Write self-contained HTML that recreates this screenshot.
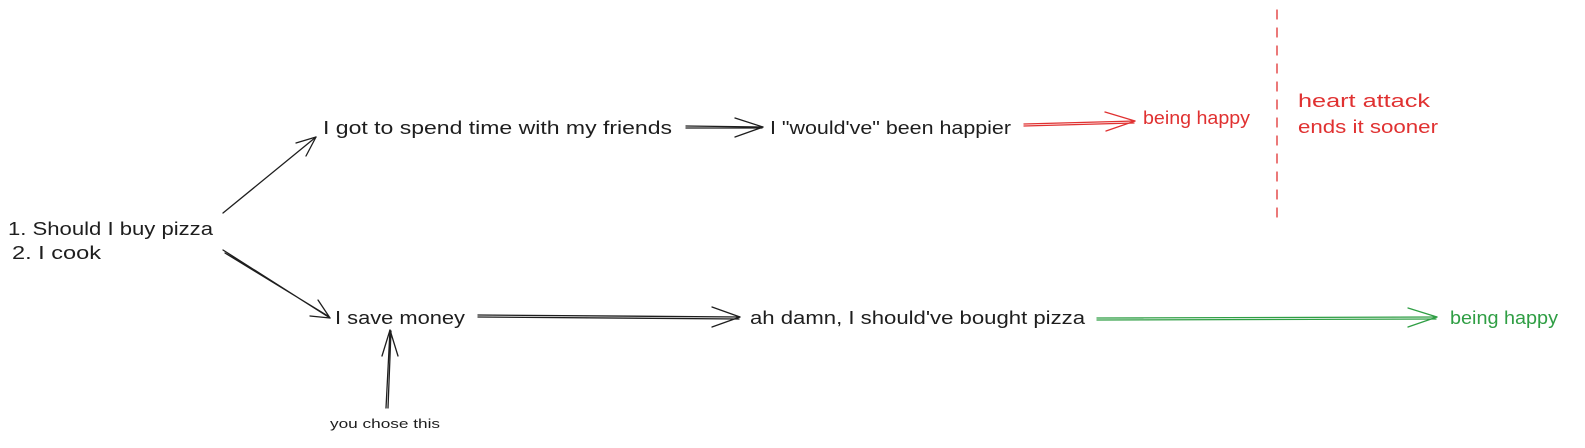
<!DOCTYPE html>
<html>
<head>
<meta charset="utf-8">
<style>
  html,body{margin:0;padding:0;background:#fff;}
  svg{display:block;}
  text{font-family:"Liberation Sans",sans-serif;font-size:18px;}
</style>
</head>
<body>
<svg width="1585" height="448" viewBox="0 0 1585 448">
  <g fill="#1e1e1e">
    <text x="8" y="235" textLength="205" lengthAdjust="spacingAndGlyphs">1. Should I buy pizza</text>
    <text x="12" y="259" textLength="89" lengthAdjust="spacingAndGlyphs">2. I cook</text>
  </g>

  <g stroke="#1e1e1e" stroke-width="1.3" fill="none" stroke-linecap="round">
    <g>
      <path d="M223 213 L316 137"/>
      <path d="M316 137 L296 143 M316 137 L306 156"/>
    </g>
    <g>
      <path d="M223 250 L330 318 M225 253 L328 316"/>
      <path d="M330 318 L318 300 M330 318 L310 316"/>
    </g>
    <g>
      <path d="M686 126 L763 127 M686 128 L762 128"/>
      <path d="M763 127 L735 118 M763 127 L735 137"/>
    </g>
    <g>
      <path d="M478 315 L740 317 M478 317 L739 319"/>
      <path d="M740 317 L712 307 M740 317 L712 327"/>
    </g>
    <g>
      <path d="M386 408 L390 330 M388 408 L391 331"/>
      <path d="M390 330 L382 356 M390 330 L398 356"/>
    </g>
  </g>

  <g stroke="#e03131" stroke-width="1.3" fill="none" stroke-linecap="round">
    <g>
      <path d="M1024 124 L1135 121 M1024 126 L1134 123"/>
      <path d="M1135 121 L1105 112 M1135 121 L1106 131"/>
    </g>
    <path d="M1277 10 L1277 220" stroke-dasharray="9 9"/>
  </g>

  <g stroke="#2f9e44" stroke-width="1.3" fill="none" stroke-linecap="round">
    <path d="M1097 318 L1437 317 M1097 320 L1436 319"/>
    <path d="M1437 317 L1408 308 M1437 317 L1408 327"/>
  </g>

  <g fill="#1e1e1e">
    <text x="323" y="134" textLength="349" lengthAdjust="spacingAndGlyphs">I got to spend time with my friends</text>
    <text x="770" y="134" textLength="241" lengthAdjust="spacingAndGlyphs">I "would've" been happier</text>
    <text x="335" y="324" textLength="130" lengthAdjust="spacingAndGlyphs">I save money</text>
    <text x="750" y="324" textLength="335" lengthAdjust="spacingAndGlyphs">ah damn, I should've bought pizza</text>
    <text x="330" y="428" style="font-size:13px" textLength="110" lengthAdjust="spacingAndGlyphs">you chose this</text>
  </g>

  <g fill="#e03131">
    <text x="1143" y="124" textLength="107" lengthAdjust="spacingAndGlyphs">being happy</text>
    <text x="1298" y="107" textLength="132" lengthAdjust="spacingAndGlyphs">heart attack</text>
    <text x="1298" y="133" textLength="140" lengthAdjust="spacingAndGlyphs">ends it sooner</text>
  </g>

  <text x="1450" y="324" fill="#2f9e44" textLength="108" lengthAdjust="spacingAndGlyphs">being happy</text>
</svg>
</body>
</html>
